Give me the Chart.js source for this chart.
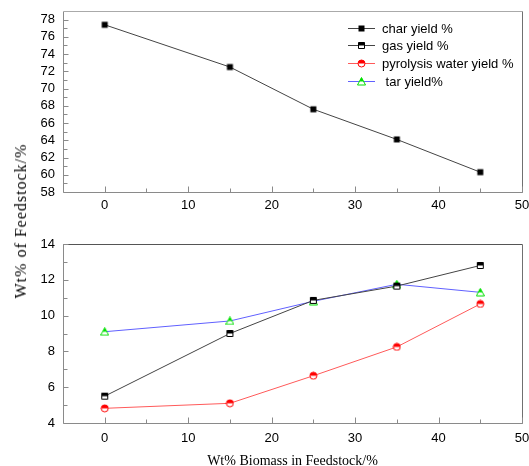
<!DOCTYPE html>
<html>
<head>
<meta charset="utf-8">
<script src="https://cdn.jsdelivr.net/npm/chart.js@4/dist/chart.umd.min.js"></script>
<style>
html, body { margin: 0; padding: 0; background: #fff; overflow: hidden; }
#wrap { position: relative; width: 529px; height: 466px; }
#topBox { position: absolute; left: 0; top: 0; width: 529px; height: 230px; }
#botBox { position: absolute; left: 0; top: 230px; width: 529px; height: 240px; }
#ytitle {
  position: absolute; left: 21px; top: 221px; white-space: nowrap;
  font: 16px "Liberation Serif", "Times New Roman", serif; letter-spacing: 1px;
  transform: translate(-50%, -50%) rotate(-90deg); color: #000;
}
</style>
</head>
<body>
<div id="wrap">
  <div id="topBox"><canvas id="topChart"></canvas></div>
  <div id="botBox"><canvas id="botChart"></canvas></div>
  <div id="ytitle">Wt% of Feedstock/%</div>
</div>
<script>
// data
var biomass = [0, 15, 25, 35, 45]
var charYield = [77.4, 72.5, 67.6, 64.1, 60.3]
var gasYield = [5.5, 9.0, 10.85, 11.65, 12.8]
var waterYield = [4.82, 5.1, 6.64, 8.25, 10.65]
var tarYield = [9.1, 9.7, 10.8, 11.75, 11.3]

var seriesNames = ['char yield %', 'gas yield %', 'pyrolysis water yield %', ' tar yield%']

var xTicks = [0, 10, 20, 30, 40, 50]
var xMinor = [5, 15, 25, 35, 45]
var topTicks = [58, 60, 62, 64, 66, 68, 70, 72, 74, 76, 78]
var topMinor = [59, 61, 63, 65, 67, 69, 71, 73, 75, 77]
var botTicks = [4, 6, 8, 10, 12, 14]
var botMinor = [5, 7, 9, 11, 13]

var tickFont = { family: '"Liberation Sans", Arial, sans-serif', size: 13 }

function makeMarker(shape, color, half){
    var s = 9
    var c = document.createElement('canvas')
    c.width = s; c.height = s
    var g = c.getContext('2d')
    function path(){
        g.beginPath()
        if (shape == 'square') g.rect(1.5, 1.5, 6, 6)
        else if (shape == 'circle') g.arc(4.5, 4.5, 3.5, 0, Math.PI*2)
        else { g.moveTo(4.5, 0.5); g.lineTo(8.5, 8); g.lineTo(0.5, 8); g.closePath() }
    }
    if (half){
        path(); g.fillStyle = '#fff'; g.fill()
        g.save(); g.beginPath(); g.rect(0, 0, s, 4.5); g.clip()
        path(); g.fillStyle = color; g.fill()
        g.restore()
        path(); g.strokeStyle = color; g.lineWidth = 1; g.stroke()
    } else {
        path(); g.fillStyle = color; g.fill()
    }
    return c
}

var charMark = makeMarker('square', '#000', false)
var gasMark = makeMarker('square', '#000', true)
var waterMark = makeMarker('circle', '#ff0000', true)
var tarMark = makeMarker('triangle', '#00e000', true)

var lineColors = ['#444', '#444', '#ff5a5a', '#6060ff']
var marks = [charMark, gasMark, waterMark, tarMark]

function pts(ys){
    var out = []
    for (var i = 0; i < biomass.length; i++) out.push({x: biomass[i], y: ys[i]})
    return out
}

function ds(label, ys, k){
    return {
        label: label, data: pts(ys),
        borderColor: lineColors[k], borderWidth: 1,
        pointStyle: marks[k], pointRadius: 4, pointHoverRadius: 4,
        showLine: true, tension: 0, fill: false
    }
}

// frame + inward ticks
function framePlugin(topColor, yMajor, yMinor){
    return {
        id: 'frame',
        afterDraw: function(chart){
            var ctx = chart.ctx, a = chart.chartArea
            var xs = chart.scales.x, ys = chart.scales.y
            ctx.save()
            ctx.lineWidth = 1
            function seg(x1, y1, x2, y2, col){
                ctx.strokeStyle = col
                ctx.beginPath(); ctx.moveTo(x1, y1); ctx.lineTo(x2, y2); ctx.stroke()
            }
            var L = Math.round(a.left) + 0.5, R = Math.round(a.right) + 0.5
            var T = Math.round(a.top) + 0.5, B = Math.round(a.bottom) + 0.5
            seg(L, T, L, B, '#8a8a8a')
            seg(L, B, R, B, '#8a8a8a')
            seg(L, T, R, T, topColor)
            seg(R, T, R, B, '#707070')
            xTicks.forEach(function(v){ var p = Math.round(xs.getPixelForValue(v)) + 0.5; seg(p, B, p, B - 6, '#8a8a8a') })
            xMinor.forEach(function(v){ var p = Math.round(xs.getPixelForValue(v)) + 0.5; seg(p, B, p, B - 4, '#8a8a8a') })
            yMajor.forEach(function(v){ var p = Math.round(ys.getPixelForValue(v)) + 0.5; seg(L, p, L + 5, p, '#8a8a8a') })
            yMinor.forEach(function(v){ var p = Math.round(ys.getPixelForValue(v)) + 0.5; seg(L, p, L + 4, p, '#8a8a8a') })
            ctx.restore()
        }
    }
}

var legendPlugin = {
    id: 'legendBox',
    afterDraw: function(chart){
        var ctx = chart.ctx
        var rows = [28, 45, 63, 81]
        ctx.save()
        for (var k = 0; k < seriesNames.length; k++){
            var y = rows[k] + 0.5
            ctx.strokeStyle = lineColors[k]; ctx.lineWidth = 1
            ctx.beginPath(); ctx.moveTo(348, y); ctx.lineTo(375, y); ctx.stroke()
            ctx.drawImage(marks[k], 361.5 - 4.5, rows[k] - 4)
            ctx.fillStyle = '#000'
            ctx.font = '13px "Liberation Sans", Arial, sans-serif'
            ctx.textBaseline = 'middle'
            ctx.fillText(seriesNames[k], 382, rows[k] + 1)
        }
        ctx.restore()
    }
}

function xScale(h, pad, title){
    var sc = {
        type: 'linear', min: -5, max: 50,
        afterBuildTicks: function(s){ s.ticks = xTicks.map(function(v){ return {value: v} }) },
        afterFit: function(s){ s.height = h; s.paddingLeft = 0; s.paddingRight = 0 },
        grid: { display: false, drawTicks: false },
        border: { display: false },
        ticks: { color: '#000', font: tickFont, padding: pad, maxRotation: 0, autoSkip: false }
    }
    if (title) sc.title = { display: true, text: title, color: '#000',
        font: { family: '"Liberation Serif", "Times New Roman", serif', size: 14 }, padding: {top: 0, bottom: 0} }
    return sc
}

function yScale(mn, mx, ticks){
    return {
        type: 'linear', min: mn, max: mx,
        afterBuildTicks: function(s){ s.ticks = ticks.map(function(v){ return {value: v} }) },
        afterFit: function(s){ s.width = 63; s.paddingTop = 0; s.paddingBottom = 0 },
        grid: { display: false, drawTicks: false },
        border: { display: false },
        ticks: { color: '#000', font: tickFont, padding: 8, autoSkip: false }
    }
}

var topChart = new Chart(document.getElementById('topChart'), {
    type: 'scatter',
    data: { datasets: [ ds(seriesNames[0], charYield, 0) ] },
    options: {
        responsive: true, maintainAspectRatio: false, animation: false,
        layout: { padding: { top: 11, right: 7, left: 0, bottom: 0 } },
        plugins: { legend: { display: false }, tooltip: { enabled: false } },
        scales: { x: xScale(38, 6), y: yScale(58, 79, topTicks) }
    },
    plugins: [framePlugin('#aaaaaa', topTicks, topMinor), legendPlugin]
})

var botChart = new Chart(document.getElementById('botChart'), {
    type: 'scatter',
    data: { datasets: [
        ds(seriesNames[1], gasYield, 1),
        ds(seriesNames[2], waterYield, 2),
        ds(seriesNames[3], tarYield, 3)
    ] },
    options: {
        responsive: true, maintainAspectRatio: false, animation: false,
        layout: { padding: { top: 14, right: 7, left: 0, bottom: 0 } },
        plugins: { legend: { display: false }, tooltip: { enabled: false } },
        scales: { x: xScale(47, 8, 'Wt% Biomass in Feedstock/%'), y: yScale(4, 14, botTicks) }
    },
    plugins: [framePlugin('#555555', botTicks, botMinor)]
})
</script>
</body>
</html>
